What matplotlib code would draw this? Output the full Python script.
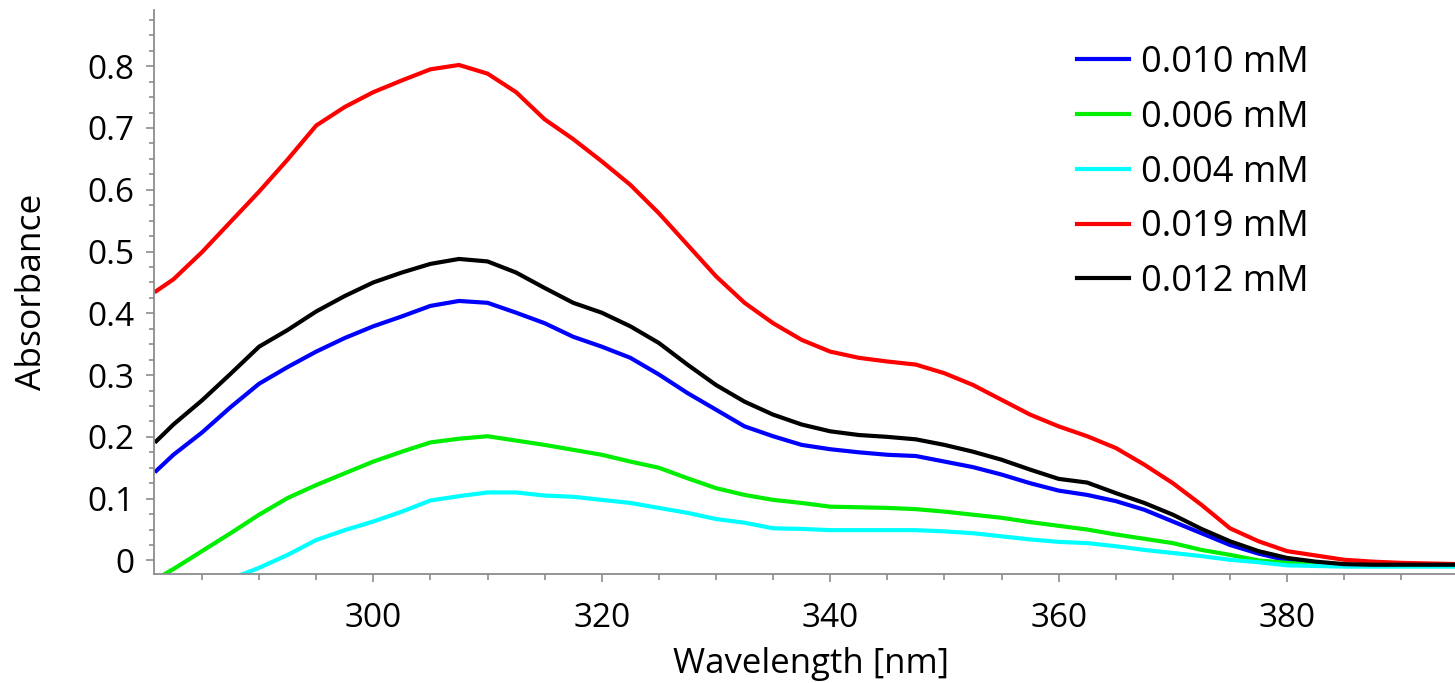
import numpy as np
import matplotlib
matplotlib.use('Agg')
from matplotlib import pyplot as plt
from matplotlib.ticker import MultipleLocator

plt.rcParams['font.family'] = ['Open Sans', 'DejaVu Sans']

# wavelength [nm]
wl = [281, 282.5, 285, 287.5, 290, 292.5, 295, 297.5, 300, 302.5, 305, 307.5, 310, 312.5,
      315, 317.5, 320, 322.5, 325, 327.5, 330, 332.5, 335, 337.5, 340, 342.5, 345, 347.5,
      350, 352.5, 355, 357.5, 360, 362.5, 365, 367.5, 370, 372.5, 375, 377.5, 380, 382.5,
      385, 387.5, 390, 395]

a_010 = [0.145, 0.171, 0.207, 0.248, 0.286, 0.313, 0.338, 0.360, 0.379, 0.395, 0.412, 0.420,
         0.417, 0.401, 0.384, 0.362, 0.346, 0.328, 0.301, 0.271, 0.244, 0.217, 0.201, 0.187,
         0.180, 0.175, 0.171, 0.169, 0.160, 0.151, 0.139, 0.125, 0.113, 0.106, 0.096, 0.082,
         0.063, 0.044, 0.025, 0.011, 0.0, -0.004, -0.008, -0.008, -0.008, -0.008]
a_006 = [-0.030, -0.014, 0.015, 0.044, 0.074, 0.101, 0.122, 0.141, 0.160, 0.176, 0.191, 0.197,
         0.201, 0.194, 0.187, 0.179, 0.171, 0.160, 0.150, 0.133, 0.117, 0.106, 0.098, 0.093,
         0.087, 0.086, 0.085, 0.083, 0.079, 0.074, 0.069, 0.062, 0.056, 0.050, 0.042, 0.035,
         0.028, 0.017, 0.009, 0.0, -0.004, -0.007, -0.009, -0.009, -0.009, -0.009]
a_004 = [np.nan, np.nan, np.nan, -0.030, -0.012, 0.009, 0.033, 0.049, 0.063, 0.079, 0.097, 0.104,
         0.110, 0.110, 0.105, 0.103, 0.098, 0.093, 0.085, 0.077, 0.067, 0.061, 0.052, 0.051,
         0.049, 0.049, 0.049, 0.049, 0.047, 0.044, 0.039, 0.034, 0.030, 0.028, 0.023, 0.017,
         0.012, 0.007, 0.001, -0.003, -0.008, -0.009, -0.010, -0.010, -0.010, -0.010]
a_019 = [0.436, 0.455, 0.499, 0.548, 0.597, 0.649, 0.704, 0.734, 0.758, 0.777, 0.795, 0.802,
         0.788, 0.758, 0.714, 0.682, 0.646, 0.608, 0.562, 0.511, 0.460, 0.417, 0.384, 0.357,
         0.338, 0.328, 0.322, 0.317, 0.303, 0.284, 0.260, 0.236, 0.217, 0.201, 0.182, 0.155,
         0.125, 0.090, 0.052, 0.031, 0.015, 0.008, 0.001, -0.002, -0.004, -0.006]
a_012 = [0.193, 0.220, 0.259, 0.302, 0.346, 0.373, 0.403, 0.428, 0.450, 0.466, 0.480, 0.488,
         0.484, 0.466, 0.441, 0.417, 0.401, 0.379, 0.352, 0.317, 0.284, 0.257, 0.236, 0.220,
         0.209, 0.203, 0.200, 0.196, 0.187, 0.176, 0.163, 0.147, 0.132, 0.126, 0.109, 0.093,
         0.074, 0.051, 0.031, 0.015, 0.004, -0.002, -0.006, -0.007, -0.007, -0.007]

labels = ['0.010 mM', '0.006 mM', '0.004 mM', '0.019 mM', '0.012 mM']
series = [a_010, a_006, a_004, a_019, a_012]
colors = ['#0000ff', '#00ee00', '#00ffff', '#ff0000', '#000000']

xticks = [300, 320, 340, 360, 380]
yticks = [0, 0.1, 0.2, 0.3, 0.4, 0.5, 0.6, 0.7, 0.8]
ytick_labels = ['0', '0.1', '0.2', '0.3', '0.4', '0.5', '0.6', '0.7', '0.8']

fig = plt.figure(figsize=(14.55, 6.83), dpi=100)
ax = fig.add_axes([154/1455, 109/683, 1 - 154/1455, 564/683])

for y, c, lab in zip(series, colors, labels):
    ax.plot(wl, y, color=c, lw=3.0, label=lab)

ax.set_xlim(280.8, 394.7)
ax.set_ylim(-0.022, 0.891)
ax.set_xticks(xticks)
ax.set_yticks(yticks)
ax.set_yticklabels(ytick_labels)
ax.xaxis.set_minor_locator(MultipleLocator(5))
ax.yaxis.set_minor_locator(MultipleLocator(0.025))

for s in ['top', 'right']:
    ax.spines[s].set_visible(False)
for s in ['left', 'bottom']:
    ax.spines[s].set_color('#8c8c8c')
    ax.spines[s].set_linewidth(1.3)

ax.tick_params(axis='both', which='both', color='#8c8c8c', width=1.2, labelsize=24)
ax.tick_params(axis='x', which='major', length=6, pad=14)
ax.tick_params(axis='x', which='minor', length=4.5)
ax.tick_params(axis='y', which='major', length=6, pad=8)
ax.tick_params(axis='y', which='minor', length=3.5)

ax.set_xlabel('Wavelength [nm]', fontsize=25, va='baseline')
ax.set_ylabel('Absorbance', fontsize=25.5)
ax.xaxis.set_label_coords(0.505, -0.175)
ax.yaxis.set_label_coords(-0.081, 0.5)

ax.legend(loc='upper left', bbox_to_anchor=(1077/1455, 1 - 45/683), bbox_transform=fig.transFigure,
          frameon=False, fontsize=26, handlelength=1.45, handletextpad=0.33,
          labelspacing=0.52, borderpad=0, borderaxespad=0)

fig.savefig('out.png', dpi=100)
